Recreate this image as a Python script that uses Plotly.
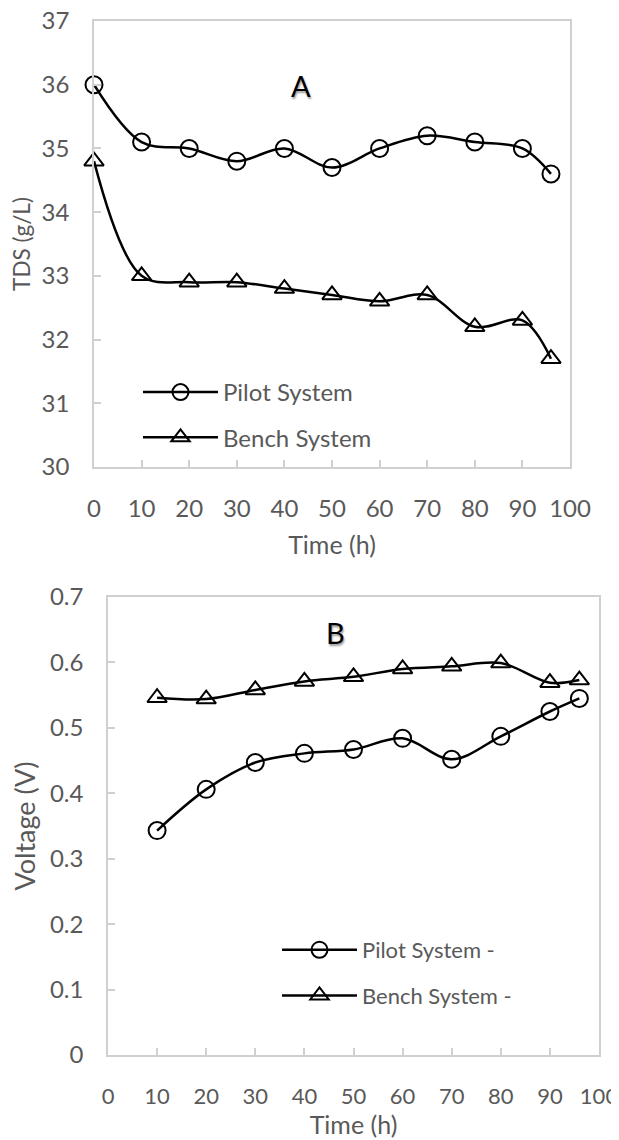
import plotly.graph_objects as go

# ---- Data ----
time_a = [0, 10, 20, 30, 40, 50, 60, 70, 80, 90, 96]
pilot_tds = [36.0, 35.1, 35.0, 34.8, 35.0, 34.7, 35.0, 35.2, 35.1, 35.0, 34.6]
bench_tds = [34.8, 33.0, 32.9, 32.9, 32.8, 32.7, 32.6, 32.7, 32.2, 32.3, 31.7]

time_b = [10, 20, 30, 40, 50, 60, 70, 80, 90, 96]
pilot_v = [0.343, 0.406, 0.447, 0.461, 0.467, 0.484, 0.452, 0.487, 0.525, 0.545]
bench_v = [0.546, 0.544, 0.558, 0.571, 0.578, 0.590, 0.594, 0.599, 0.569, 0.573]

x_ticks = [0, 10, 20, 30, 40, 50, 60, 70, 80, 90, 100]
tds_ticks = [30, 31, 32, 33, 34, 35, 36, 37]
v_ticks = [0, 0.1, 0.2, 0.3, 0.4, 0.5, 0.6, 0.7]

FONT = "Lato"
GRAY = "#595959"
AX = "#d0d0d0"
OFF = 8                      # page body margin
W, H = 619 - OFF, 1140 - OFF
FS = 24

fig = go.Figure()

def add(x, y, name, sym, xa, ya, leg):
    fig.add_trace(go.Scatter(
        x=x, y=y, name=name, mode="lines+markers",
        line=dict(color="black", width=2.5, shape="spline", smoothing=1.0),
        marker=dict(symbol=sym, size=17, color="black", line=dict(width=2, color="black")),
        xaxis=xa, yaxis=ya, legend=leg, legendgroup=name + leg,
        cliponaxis=False,
    ))

add(time_a, pilot_tds, "Pilot System", "circle-open", "x", "y", "legend")
add(time_a, bench_tds, "Bench System", "triangle-up-open", "x", "y", "legend")
add(time_b, pilot_v, "Pilot System -", "circle-open", "x2", "y2", "legend2")
add(time_b, bench_v, "Bench System -", "triangle-up-open", "x2", "y2", "legend2")

def px_x(p):
    return (p - OFF) / W

def px_y(p):
    return (H - (p - OFF)) / H

axis_common = dict(
    showline=True, linecolor=AX, linewidth=1.5, mirror=True,
    ticks="inside", ticklen=7, tickcolor=AX, tickwidth=1.5,
    showgrid=False, zeroline=False, automargin=False,
    ticklabeloverflow="allow",
    tickfont=dict(family=FONT, size=FS, color=GRAY),
)

def title(text, size, standoff):
    return dict(text=text, font=dict(family=FONT, size=size, color=GRAY), standoff=standoff)

fig.update_layout(
    width=W, height=H,
    margin=dict(l=0, r=0, t=0, b=0, autoexpand=False),
    paper_bgcolor="white", plot_bgcolor="white",
    font=dict(family=FONT, color=GRAY),
    xaxis=dict(axis_common, domain=[px_x(94), px_x(570)], range=[0, 100],
               tickvals=x_ticks, anchor="y", ticklabelstandoff=19,
               title=title("Time (h)", 25, 16)),
    yaxis=dict(axis_common, domain=[px_y(467), px_y(21)], range=[30, 37],
               tickvals=tds_ticks, anchor="x", ticklabelstandoff=18,
               title=title("TDS (g/L)", 22.5, 11)),
    xaxis2=dict(axis_common, domain=[px_x(108), px_x(599)], range=[0, 100],
                tickvals=x_ticks, anchor="y2", ticklabelstandoff=21,
                tickfont=dict(family=FONT, size=22, color=GRAY),
                title=title("Time (h)", 25, 3)),
    yaxis2=dict(axis_common, domain=[px_y(1055), px_y(597)], range=[0, 0.7],
                tickvals=v_ticks, anchor="x2", ticklabelstandoff=18,
                title=title("Voltage (V)", 27, 11)),
    legend=dict(x=px_x(138), y=px_y(370), xanchor="left", yanchor="top",
                bgcolor="rgba(0,0,0,0)", font=dict(family=FONT, size=24, color=GRAY),
                traceorder="grouped", tracegroupgap=11, itemwidth=75),
    legend2=dict(x=px_x(277), y=px_y(929), xanchor="left", yanchor="top",
                 bgcolor="rgba(0,0,0,0)", font=dict(family=FONT, size=22, color=GRAY),
                 traceorder="grouped", tracegroupgap=14, itemwidth=75),
    showlegend=True,
    annotations=[
        dict(text="A", x=px_x(301), y=px_y(66), xref="paper", yref="paper",
             showarrow=False, font=dict(family=FONT, size=29, color="black", shadow="1px 2px 2px #999")),
        dict(text="B", x=px_x(335), y=px_y(633), xref="paper", yref="paper",
             showarrow=False, font=dict(family=FONT, size=29, color="black", shadow="1px 2px 2px #999")),
    ],
)

fig.write_html("out.html")
